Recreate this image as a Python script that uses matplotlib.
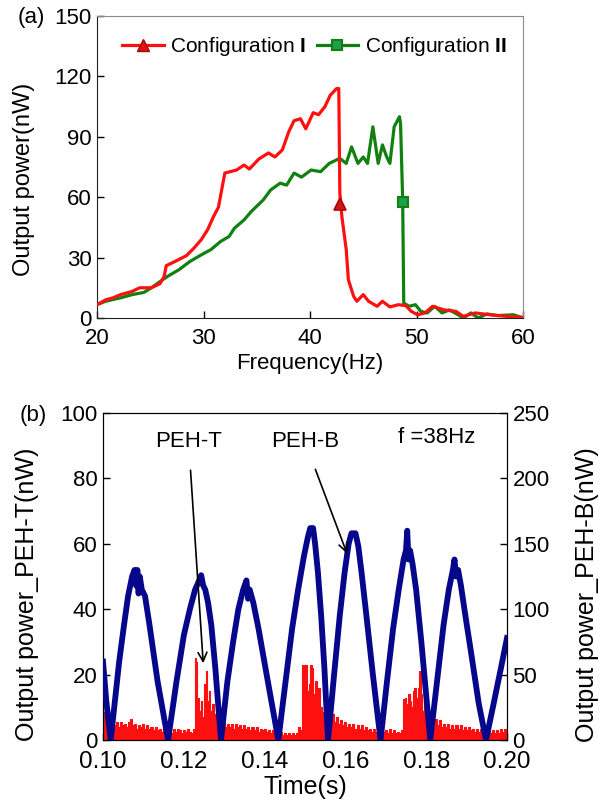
import numpy as np
import matplotlib
matplotlib.use("Agg")
import matplotlib.pyplot as plt
from matplotlib.lines import Line2D

plt.rcParams['font.family'] = ['Liberation Sans', 'DejaVu Sans']
plt.rcParams['mathtext.fontset'] = 'custom'
plt.rcParams['mathtext.bf'] = 'Liberation Sans:bold'
plt.rcParams['mathtext.rm'] = 'Liberation Sans'

# ---------------- Panel (a) data ----------------
freq_I = [20, 20.8, 21.5, 22.2, 23.3, 24, 25.1, 25.9, 26.3, 26.5, 27.3, 28.4, 29.1, 29.8,
          30.4, 30.9, 31.4, 32, 33.1, 33.8, 34.3, 35.2, 36.1, 36.7, 37.4, 38, 38.5, 39.1,
          39.6, 40.3, 40.8, 41.4, 41.9, 42.5, 42.7, 42.8, 43.0, 43.4, 43.6, 44.1, 44.4, 45,
          45.5, 46.3, 46.8, 47.5, 48.3, 49, 49.5, 50.1, 50.8, 51.5, 52.6, 53.7, 54.4, 55.5,
          56.9, 58.4, 60]
power_I = [6.6, 9, 10, 11.6, 13.2, 15, 15, 17, 20.6, 26, 28, 31, 34.7, 39,
           44, 50, 55, 72, 73.5, 76, 74, 79, 82, 80, 83.5, 92.5, 98, 99,
           94, 102, 101, 105, 110.7, 114, 114, 62, 50, 34, 19, 10.7, 8.3, 11.6,
           8.3, 5.8, 8.3, 5.5, 6.6, 6.1, 3.3, 1.6, 2.5, 5.8, 4, 3.3, 0.8, 2.5,
           1.6, 0.8, 0.3]

freq_II = [20, 20.8, 22.2, 23.3, 24.4, 25.1, 25.9, 26.6, 27.7, 28.7, 29.8, 30.7, 31.6, 32.4,
           32.9, 33.8, 34.5, 35.6, 36.3, 37.2, 37.8, 38.5, 39.2, 40.1, 41, 41.8, 42.8, 43.4,
           43.9, 44.5, 45, 45.4, 45.9, 46.4, 46.8, 47.2, 47.5, 47.9, 48.4, 48.5, 48.7, 48.8,
           49.3, 49.9, 50.4, 51, 51.7, 52.4, 53.1, 53.9, 54.4, 55.1, 55.8, 56.6, 57.6, 59.1, 60]
power_II = [6.6, 8.3, 10, 11.6, 12.7, 15, 18, 20.6, 24, 28, 31.4, 34, 38, 40.5,
            44.6, 48.7, 53, 58.6, 63.6, 67, 66, 72, 70, 73.5, 72.7, 76.8, 79.3, 76.8,
            85, 76.8, 80, 76.8, 95, 76.8, 86, 80, 76.8, 95, 100, 96.6, 58.6, 7.4,
            5.8, 6.6, 3.3, 2.5, 5.8, 2.5, 4, 1.6, 0, 2.5, 0, 2, 1.2, 1.6, 0]

marker_I = (42.8, 56.5)
marker_II = (48.7, 57.5)

# ---------------- Panel (b) data ----------------
t_T = [0.1000, 0.1005, 0.1010, 0.1015, 0.1020, 0.1025, 0.1030, 0.1035, 0.1040, 0.1045,
       0.1050, 0.1055, 0.1060, 0.1065, 0.1070, 0.1075, 0.1080, 0.1085, 0.1090, 0.1095,
       0.1100, 0.1105, 0.1110, 0.1115, 0.1120, 0.1125, 0.1130, 0.1135, 0.1140, 0.1145,
       0.1150, 0.1155, 0.1160, 0.1165, 0.1170, 0.1175, 0.1180, 0.1185, 0.1190, 0.1195,
       0.1200, 0.1205, 0.1210, 0.1215, 0.1220, 0.1225, 0.1228, 0.1232, 0.1235, 0.1240,
       0.1244, 0.1248, 0.1252, 0.1256, 0.1260, 0.1264, 0.1268, 0.1272, 0.1276, 0.1280,
       0.1285, 0.1290, 0.1295, 0.1300, 0.1305, 0.1310, 0.1315, 0.1320, 0.1325, 0.1330,
       0.1335, 0.1340, 0.1345, 0.1350, 0.1355, 0.1360, 0.1365, 0.1370, 0.1375, 0.1380,
       0.1385, 0.1390, 0.1395, 0.1400, 0.1405, 0.1410, 0.1415, 0.1420, 0.1425, 0.1430,
       0.1435, 0.1440, 0.1445, 0.1450, 0.1455, 0.1460, 0.1465, 0.1470, 0.1475, 0.1480,
       0.1485, 0.1490, 0.1494, 0.1499, 0.1503, 0.1507, 0.1511, 0.1515, 0.1519, 0.1523,
       0.1527, 0.1531, 0.1535, 0.1539, 0.1543, 0.1548, 0.1552, 0.1556, 0.1560, 0.1565,
       0.1570, 0.1575, 0.1580, 0.1585, 0.1590, 0.1595, 0.1600, 0.1605, 0.1610, 0.1615,
       0.1620, 0.1625, 0.1630, 0.1635, 0.1640, 0.1645, 0.1650, 0.1655, 0.1660, 0.1665,
       0.1670, 0.1675, 0.1680, 0.1685, 0.1690, 0.1695, 0.1700, 0.1705, 0.1710, 0.1715,
       0.1720, 0.1725, 0.1730, 0.1735, 0.1740, 0.1745, 0.1749, 0.1753, 0.1757, 0.1761,
       0.1765, 0.1769, 0.1773, 0.1777, 0.1781, 0.1784, 0.1788, 0.1792, 0.1796, 0.1800,
       0.1804, 0.1808, 0.1812, 0.1816, 0.1820, 0.1825, 0.1830, 0.1835, 0.1840, 0.1845,
       0.1850, 0.1855, 0.1860, 0.1865, 0.1870, 0.1875, 0.1880, 0.1885, 0.1890, 0.1895,
       0.1900, 0.1905, 0.1910, 0.1915, 0.1920, 0.1925, 0.1930, 0.1935, 0.1940, 0.1945,
       0.1950, 0.1955, 0.1960, 0.1965, 0.1970, 0.1975, 0.1980, 0.1985, 0.1990, 0.1995,
       0.2000]
p_T = [8.5, 7.5, 8, 6, 7, 5, 4.5, 5.5, 4, 5.5,
       4.5, 5, 4, 5.5, 6.5, 4.5, 5, 3.5, 4.5, 4,
       5, 3.5, 4.5, 3.5, 4, 3, 4, 3, 3.5, 2.5,
       3.5, 3, 2.5, 3, 2, 3.5, 2.5, 3.5, 3, 2,
       3, 2.5, 3.5, 2.5, 2, 3.5, 25, 24, 13, 9,
       12, 7, 17, 21, 12, 15, 9, 11, 6, 8,
       5, 7, 4.5, 5.5, 4, 5, 4, 5, 3.5, 5,
       4, 4.5, 3.5, 4.5, 3.5, 4, 3, 4, 3, 4,
       2.5, 3.5, 3, 3.5, 2.5, 3, 2, 3, 2, 2.5,
       1.5, 2.5, 1.5, 2, 1.5, 2, 1.5, 2, 1.5, 2,
       4, 3, 23, 22, 23, 15, 17, 23, 22, 14,
       18, 12, 16, 10, 8.5, 6, 8.5, 5, 8, 6,
       8, 5.5, 7, 5, 6, 4.5, 5.5, 4, 5, 4,
       5, 3.5, 4.5, 3.5, 4.5, 3, 4, 3, 3.5, 2.5,
       3.5, 2.5, 3.5, 2.5, 3.5, 2.5, 3, 2, 3.5, 2,
       3, 2, 2.5, 2, 3, 12.5, 13, 11, 14, 12,
       10, 15, 16, 13, 16, 21, 14, 9, 12, 9,
       10, 6, 4.5, 7, 4, 6.5, 4.5, 6, 4, 5,
       4, 5, 3.5, 4.5, 3.5, 4.5, 3.5, 4.5, 3, 4,
       3, 4, 3, 3.5, 2.5, 3.5, 2.5, 3.5, 2.5, 3,
       2, 3.5, 2, 3, 2, 3, 2, 3.5, 2.5, 3.5,
       3]

t_B = [0.1000, 0.1008, 0.1019,
       0.1040, 0.1052, 0.1062, 0.1072, 0.1078, 0.1082, 0.1085, 0.1088, 0.1091, 0.1096, 0.1104,
       0.1115, 0.1135, 0.1161,
       0.1182, 0.1200, 0.1215, 0.1228, 0.1238, 0.1243, 0.1248, 0.1253, 0.1260, 0.1268, 0.1278,
       0.1292,
       0.1308, 0.1322, 0.1335, 0.1347, 0.1355, 0.1359, 0.1363, 0.1372, 0.1385, 0.1405, 0.1434,
       0.1452, 0.1468, 0.1483, 0.1497, 0.1507, 0.1513, 0.1520, 0.1525, 0.1532, 0.1540, 0.1548,
       0.1557,
       0.1572, 0.1586, 0.1598, 0.1608, 0.1615, 0.1625, 0.1632, 0.1640, 0.1652, 0.1668, 0.1687,
       0.1703, 0.1718, 0.1732, 0.1744, 0.1750, 0.1753, 0.1756, 0.1760, 0.1766, 0.1775, 0.1788,
       0.1810,
       0.1828, 0.1843, 0.1856, 0.1866, 0.1870, 0.1874, 0.1879, 0.1886, 0.1897, 0.1912, 0.1930,
       0.1948,
       0.1965, 0.1985, 0.2000]
p_B = [60, 30, 0,
       60, 88, 110, 125, 130, 118, 130, 112, 125, 115, 110,
       88, 45, 0,
       45, 80, 100, 115, 122, 126, 118, 115, 105, 88, 55,
       0,
       45, 75, 100, 115, 122, 108, 115, 105, 85, 50, 0,
       45, 85, 115, 140, 155, 162, 162, 150, 128, 95, 55,
       0,
       50, 95, 128, 150, 158, 158, 148, 128, 95, 50, 0,
       45, 85, 115, 138, 145, 160, 138, 145, 135, 115, 75,
       0,
       48, 88, 115, 130, 138, 125, 130, 118, 95, 65, 28,
       0,
       25, 55, 78]

# ---------------- Figure ----------------
RED = '#ff1010'
GREEN = '#118011'
NAVY = '#06078a'
FS = 16

fig = plt.figure(figsize=(6.0, 8.05), dpi=100)

# Panel (a)
ax1 = fig.add_axes([0.1617, 0.605, 0.71, 0.375])
ax1.plot(freq_I, power_I, color=RED, lw=2.3, zorder=3)
ax1.plot(freq_II, power_II, color=GREEN, lw=2.3, zorder=2)
ax1.plot([marker_I[0]], [marker_I[1]], marker='^', ms=9, mfc='#d01818', mec='#b00000',
         mew=1.2, ls='none', zorder=4)
ax1.plot([marker_II[0]], [marker_II[1]], marker='s', ms=7.5, mfc='#1ca04a', mec=GREEN,
         mew=1.5, ls='none', zorder=4)
ax1.set_xlim(20, 60)
ax1.set_ylim(0, 150)
ax1.set_xticks([20, 30, 40, 50, 60])
ax1.set_yticks([0, 30, 60, 90, 120, 150])
ax1.tick_params(direction='in', length=5, labelsize=FS, width=1)
ax1.tick_params(axis='x', pad=7)
ax1.tick_params(axis='y', pad=4)
for s in ['top', 'right']:
    ax1.spines[s].set_color('#8a8a8a')
for s in ['left', 'bottom']:
    ax1.spines[s].set_color('#222222')
ax1.set_xlabel('Frequency(Hz)', fontsize=FS, labelpad=3)
ax1.set_ylabel('Output power(nW)', fontsize=17)
ax1.yaxis.set_label_coords(-0.145, 0.46)

h1 = Line2D([], [], color=RED, lw=2.3, marker='^', ms=9, mfc='#d01818', mec='#b00000')
h2 = Line2D([], [], color=GREEN, lw=2.3, marker='s', ms=7.5, mfc='#1ca04a', mec=GREEN, mew=1.5)
ax1.legend([h1, h2], [r'Configuration $\mathbf{I}$', r'Configuration $\mathbf{II}$'],
           ncol=2, loc='upper center', bbox_to_anchor=(0.51, 0.985), frameon=False,
           fontsize=15, handlelength=2.0, handletextpad=0.3, columnspacing=0.5,
           borderaxespad=0.3)
fig.text(0.052, 0.978, '(a)', fontsize=FS, ha='center', va='center')

# Panel (b)
ax2 = fig.add_axes([0.1717, 0.0807, 0.6733, 0.4063])
ax2.fill_between(t_T, 0, p_T, step='mid', color=RED, lw=0, zorder=2)
ax2.step(t_T, p_T, where='mid', color=RED, lw=0.8, zorder=2)
ax2.set_xlim(0.10, 0.20)
ax2.set_ylim(0, 100)
ax2.set_xticks([0.10, 0.12, 0.14, 0.16, 0.18, 0.20])
ax2.set_xticklabels(['0.10', '0.12', '0.14', '0.16', '0.18', '0.20'])
ax2.set_yticks([0, 20, 40, 60, 80, 100])
ax2.tick_params(direction='in', length=5, labelsize=FS, width=1)
ax2.tick_params(axis='x', pad=8, labelsize=17.5)
ax2.tick_params(axis='y', pad=4)
ax2.set_xlabel('Time(s)', fontsize=18, labelpad=1)
ax2.set_ylabel('Output power_PEH-T(nW)', fontsize=18)
ax2.yaxis.set_label_coords(-0.158, 0.445)

ax3 = ax2.twinx()
ax3.plot(t_B, p_B, color=NAVY, lw=4.2, solid_joinstyle='round', zorder=3)
ax3.set_ylim(0, 250)
ax3.set_yticks([0, 50, 100, 150, 200, 250])
ax3.tick_params(direction='in', length=5, labelsize=FS, pad=4, width=1)
ax3.set_ylabel('Output power_PEH-B(nW)', fontsize=18)
ax3.yaxis.set_label_coords(1.168, 0.445)

ax3.annotate('PEH-T', xy=(0.1248, 23.5 * 2.5), xytext=(0.1212, 228),
             fontsize=FS, ha='center', va='center',
             arrowprops=dict(arrowstyle='->', color='black', lw=1.2,
                             shrinkA=11, shrinkB=0, mutation_scale=16))
ax3.annotate('PEH-B', xy=(0.1604, 57 * 2.5), xytext=(0.1500, 228),
             fontsize=FS, ha='center', va='center',
             arrowprops=dict(arrowstyle='->', color='black', lw=1.2,
                             shrinkA=11, shrinkB=0, mutation_scale=16))
ax3.text(0.1825, 231, 'f =38Hz', fontsize=FS, ha='center', va='center')
fig.text(0.055, 0.484, '(b)', fontsize=FS, ha='center', va='center')

fig.savefig('out.png', dpi=100)
